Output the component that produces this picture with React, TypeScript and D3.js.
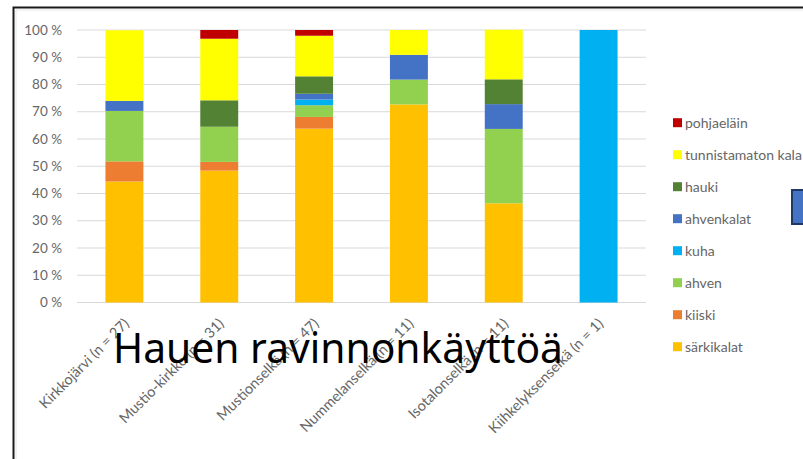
import React, { useRef, useEffect } from "react";
import * as d3 from "d3";

// sites along x axis
const sites = [
  "Kirkkojärvi (n = 27)",
  "Mustio-kirkko (n = 31)",
  "Mustionselkä (n = 47)",
  "Nummelanselkä (n = 11)",
  "Isotalonselkä (n = 11)",
  "Kiihkelyksenselkä (n = 1)",
];

// prey groups, bottom of stack first
const preyTypes = ["särkikalat", "kiiski", "ahven", "kuha", "ahvenkalat", "hauki", "tunnistamaton kala", "pohjaeläin"];
const preyColors = ["#FFC000", "#ED7D31", "#92D050", "#00B0F0", "#4472C4", "#548235", "#FFFF00", "#C00000"];

// share (%) per site
const sarkikalat = [44.4, 48.4, 63.8, 72.7, 36.4, 0];
const kiiski = [7.4, 3.2, 4.3, 0, 0, 0];
const ahven = [18.5, 12.9, 4.3, 9.1, 27.3, 0];
const kuha = [0, 0, 2.1, 0, 0, 100];
const ahvenkalat = [3.7, 0, 2.1, 9.1, 9.1, 0];
const hauki = [0, 9.7, 6.4, 0, 9.1, 0];
const tunnistamaton = [25.9, 22.6, 14.9, 9.1, 18.2, 0];
const pohjaelain = [0, 3.2, 2.1, 0, 0, 0];

const yTicks = [0, 10, 20, 30, 40, 50, 60, 70, 80, 90, 100];
const title = "Hauen ravinnonkäyttöä";

const App = () => {
  const svgRef = useRef<SVGSVGElement>(null);

  useEffect(() => {
    const svg = d3.select(svgRef.current);
    svg.selectAll("*").remove();

    const width = 803;
    const height = 459;
    const plot = { left: 77, right: 646, top: 30, bottom: 302.5 };
    const font = "Lato, 'Open Sans', sans-serif";
    const gray = "#666";

    const series = [sarkikalat, kiiski, ahven, kuha, ahvenkalat, hauki, tunnistamaton, pohjaelain];
    const rows = sites.map((s, i) => {
      const r: Record<string, any> = { site: s };
      preyTypes.forEach((p, k) => (r[p] = series[k][i]));
      return r;
    });

    svg.attr("width", width).attr("height", height);
    svg.append("rect").attr("width", width).attr("height", height).attr("fill", "#fff");

    // frame
    svg.append("path")
      .attr("d", `M13.5,${height} V7.5 H${width}`)
      .attr("fill", "none")
      .attr("stroke", "#1a1a1a")
      .attr("stroke-width", 2);
    svg.append("path")
      .attr("d", `M16,${height} V10 H${width}`)
      .attr("fill", "none")
      .attr("stroke", "#e6e6e6")
      .attr("stroke-width", 1);

    const x = d3.scaleBand().domain(sites).range([plot.left, plot.right]).paddingInner(0.6).paddingOuter(0.3);
    const y = d3.scaleLinear().domain([0, 100]).range([plot.bottom, plot.top]);
    const color = d3.scaleOrdinal<string>().domain(preyTypes).range(preyColors);

    // gridlines
    svg.append("g")
      .selectAll("line")
      .data(yTicks)
      .join("line")
      .attr("x1", plot.left)
      .attr("x2", plot.right)
      .attr("y1", d => y(d))
      .attr("y2", d => y(d))
      .attr("stroke", "#d9d9d9")
      .attr("stroke-width", 1.2);

    svg.append("g")
      .selectAll("text")
      .data(yTicks)
      .join("text")
      .attr("x", 62)
      .attr("y", d => y(d))
      .attr("dy", "0.35em")
      .attr("text-anchor", "end")
      .attr("font-family", font)
      .attr("font-size", 13.5)
      .attr("fill", gray)
      .text(d => `${d} %`);

    // stacked bars
    const stacked = d3.stack().keys(preyTypes)(rows as any);
    svg.append("g")
      .selectAll("g")
      .data(stacked)
      .join("g")
      .attr("fill", d => color(d.key))
      .selectAll("rect")
      .data(d => d)
      .join("rect")
      .attr("x", d => x((d.data as any).site)!)
      .attr("width", x.bandwidth())
      .attr("y", d => y(d[1]))
      .attr("height", d => y(d[0]) - y(d[1]));

    // x labels
    svg.append("g")
      .selectAll("text")
      .data(sites)
      .join("text")
      .attr("transform", d => `translate(${x(d)! + x.bandwidth() / 2 + 2},321) rotate(-45)`)
      .attr("dy", "0.35em")
      .attr("text-anchor", "end")
      .attr("font-family", font)
      .attr("font-size", 14.5)
      .attr("fill", gray)
      .text(d => d);

    // legend
    const legend = svg.append("g")
      .selectAll("g")
      .data(preyTypes.slice().reverse())
      .join("g")
      .attr("transform", (d, i) => `translate(673,${122.7 + i * 32})`);
    legend.append("rect")
      .attr("y", -4.5)
      .attr("width", 9)
      .attr("height", 9)
      .attr("fill", d => color(d));
    legend.append("text")
      .attr("x", 12)
      .attr("dy", "0.35em")
      .attr("font-family", font)
      .attr("font-size", 14)
      .attr("fill", gray)
      .text(d => d);

    // stray shape at the right edge
    svg.append("rect")
      .attr("x", 792)
      .attr("y", 190)
      .attr("width", 20)
      .attr("height", 34)
      .attr("fill", "#4472C4")
      .attr("stroke", "#1F3864")
      .attr("stroke-width", 2);

    // overlaid title
    svg.append("text")
      .attr("x", 113)
      .attr("y", 363)
      .attr("font-family", "'Noto Sans', 'Open Sans', sans-serif")
      .attr("font-size", 42)
      .attr("textLength", 450)
      .attr("lengthAdjust", "spacingAndGlyphs")
      .attr("fill", "#000")
      .text(title);
  }, []);

  return (
    <div style={{ position: "fixed", left: 0, top: 0, width: 803, height: 459, overflow: "hidden" }}>
      <svg ref={svgRef} style={{ display: "block" }}></svg>
    </div>
  );
};

export default App;
